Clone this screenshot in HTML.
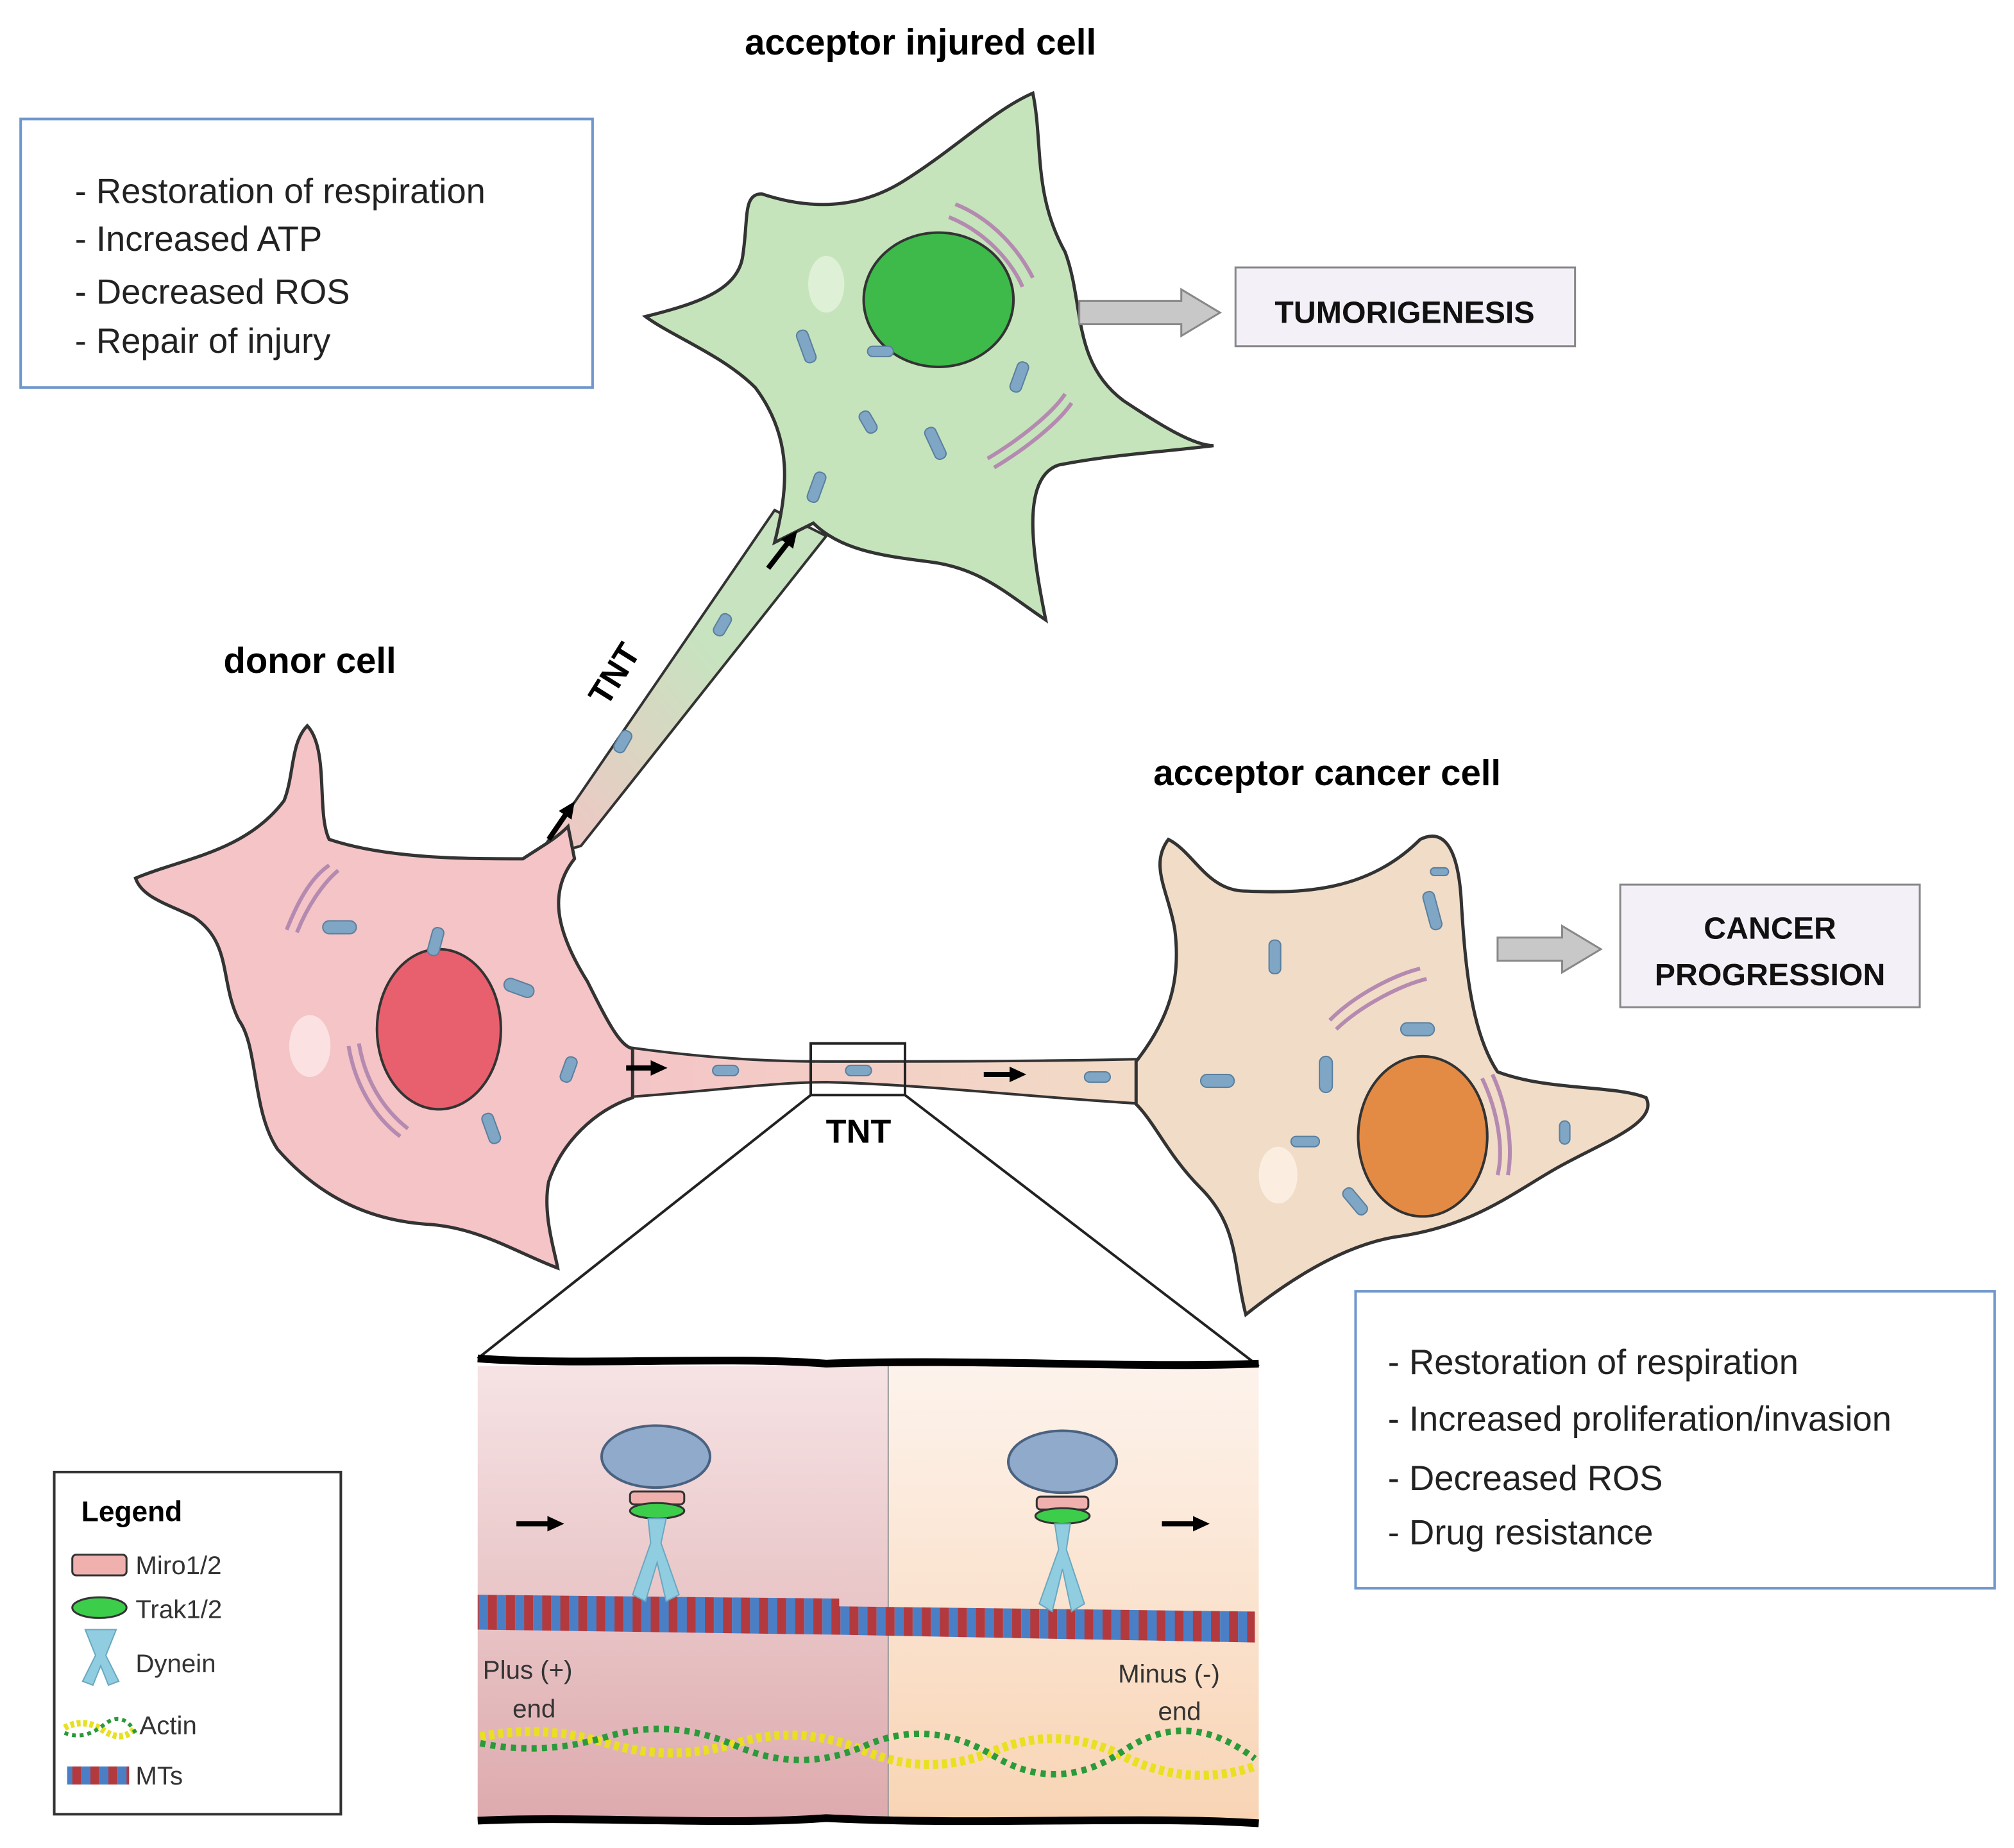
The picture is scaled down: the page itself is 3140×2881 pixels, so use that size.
<!DOCTYPE html>
<html><head><meta charset="utf-8"><style>
html,body{margin:0;padding:0;background:#fff;}
svg{display:block;}
text{font-family:"Liberation Sans",sans-serif;}
</style></head><body>
<svg width="3140" height="2881" viewBox="0 0 1560 1431" xmlns="http://www.w3.org/2000/svg">
<defs>
<linearGradient id="tnt1" x1="0" y1="1" x2="1" y2="0"><stop offset="0" stop-color="#f4c4c6"/><stop offset="0.6" stop-color="#c7e3bf"/></linearGradient>
<linearGradient id="tnt2" x1="0" y1="0" x2="1" y2="0"><stop offset="0" stop-color="#f4c4c6"/><stop offset="1" stop-color="#f2dcc6"/></linearGradient>
<linearGradient id="pl" x1="0" y1="0" x2="0" y2="1"><stop offset="0" stop-color="#f6e3e4"/><stop offset="1" stop-color="#ddaaad"/></linearGradient>
<linearGradient id="pr" x1="0" y1="0" x2="0" y2="1"><stop offset="0" stop-color="#fdf3ec"/><stop offset="1" stop-color="#f8d4b4"/></linearGradient>
<pattern id="mt" width="14" height="8" patternUnits="userSpaceOnUse"><rect width="7" height="8" fill="#b23a3e"/><rect x="7" width="7" height="8" fill="#4a7fc6"/></pattern>
<marker id="ah" markerUnits="userSpaceOnUse" markerWidth="14" markerHeight="14" refX="4" refY="7" orient="auto"><path d="M0,1 L13,7 L0,13z" fill="#000"/></marker>
</defs>

<rect x="16" y="92" width="443" height="208" fill="#fff" stroke="#6f97cc" stroke-width="2"/>
<g font-size="27" fill="#222">
<text x="58" y="157">- Restoration of respiration</text>
<text x="58" y="194">- Increased ATP</text>
<text x="58" y="235">- Decreased ROS</text>
<text x="58" y="273">- Repair of injury</text>
</g>

<text x="713" y="42" font-size="28" font-weight="bold" text-anchor="middle">acceptor injured cell</text>
<text x="240" y="521" font-size="28" font-weight="bold" text-anchor="middle">donor cell</text>
<text x="1028" y="608" font-size="28" font-weight="bold" text-anchor="middle">acceptor cancer cell</text>

<path d="M415,665 L600,395 L640,415 L450,655 Z" fill="url(#tnt1)" stroke="#333" stroke-width="2"/>
<path d="M600,420 C610,380 615,340 585,300 C560,275 520,260 500,245 C540,235 570,225 575,200 C580,170 575,150 590,150 C620,160 660,165 700,140 C740,115 770,85 800,72 C808,110 800,150 825,195 C840,235 830,280 870,310 C900,330 925,345 940,345 C900,350 860,352 820,360 C790,370 800,430 810,480 C780,460 760,440 720,435 C680,430 650,425 630,405 Z" fill="#c5e4bb" stroke="#333" stroke-width="2.5"/>
<ellipse cx="727" cy="232" rx="58" ry="52" fill="#3dba4a" stroke="#333" stroke-width="2"/>
<ellipse cx="640" cy="220" rx="14" ry="22" fill="#e3f2dc" opacity=".8"/>
<g fill="#7fa6c4" stroke="#5a7f9e">
<rect x="620" y="255" width="9" height="26" rx="4" transform="rotate(-20 625 268)"/>
<rect x="672" y="268" width="20" height="8" rx="4"/>
<rect x="720" y="330" width="9" height="26" rx="4" transform="rotate(-25 725 343)"/>
<rect x="668" y="318" width="9" height="18" rx="4" transform="rotate(-30 672 327)"/>
<rect x="785" y="280" width="9" height="24" rx="4" transform="rotate(20 790 292)"/>
<rect x="628" y="365" width="9" height="24" rx="4" transform="rotate(20 632 377)"/>
<rect x="555" y="475" width="9" height="18" rx="4" transform="rotate(30 560 484)"/>
<rect x="478" y="565" width="9" height="18" rx="4" transform="rotate(30 482 574)"/>
</g>
<g fill="none" stroke="#b58ab0" stroke-width="3">
<path d="M740,158 C770,170 790,195 800,215"/><path d="M735,168 C765,180 785,205 792,222"/>
<path d="M765,355 C790,340 815,320 825,305"/><path d="M770,362 C795,347 820,327 830,312"/>
</g>

<path d="M480,810 C560,822 620,822 640,822 C720,822 800,822 890,820 L890,855 C800,850 720,840 640,838 C600,838 550,845 480,850 Z" fill="url(#tnt2)" stroke="#333" stroke-width="2"/>

<path d="M105,680 C140,665 190,660 220,620 C228,600 225,575 238,562 C255,580 245,630 255,650 C300,665 360,665 405,665 C420,655 430,650 440,640 L445,665 C425,690 430,720 455,760 C470,790 480,810 490,812 L490,850 C460,860 435,885 425,915 C420,940 430,970 432,982 C400,970 370,950 330,948 C290,945 250,930 215,890 C195,860 200,810 185,790 C170,760 180,730 150,710 C130,700 110,695 105,680 Z" fill="#f4c4c6" stroke="#333" stroke-width="2.5"/>
<ellipse cx="340" cy="797" rx="48" ry="62" fill="#e8606e" stroke="#333" stroke-width="2"/>
<ellipse cx="240" cy="810" rx="16" ry="24" fill="#fbe1e2"/>
<g fill="#7fa6c4" stroke="#5a7f9e">
<rect x="250" y="713" width="26" height="10" rx="5"/>
<rect x="333" y="718" width="9" height="22" rx="4" transform="rotate(15 337 729)"/>
<rect x="390" y="760" width="24" height="10" rx="5" transform="rotate(20 402 765)"/>
<rect x="436" y="818" width="9" height="20" rx="4" transform="rotate(20 440 828)"/>
<rect x="376" y="862" width="9" height="24" rx="4" transform="rotate(-20 380 874)"/>
<rect x="552" y="825" width="20" height="8" rx="4"/>
<rect x="655" y="825" width="20" height="8" rx="4"/>
<rect x="840" y="830" width="20" height="8" rx="4"/>
</g>
<g fill="none" stroke="#b58ab0" stroke-width="3">
<path d="M222,720 C230,700 240,680 255,670"/><path d="M230,722 C238,702 250,684 262,674"/>
<path d="M270,810 C275,840 290,865 310,880"/><path d="M278,808 C283,838 298,860 316,874"/>
</g>

<path d="M880,822 C905,790 915,760 910,720 C905,690 890,670 905,650 C925,660 935,690 965,690 C1010,692 1060,690 1100,650 C1120,640 1130,660 1132,700 C1135,750 1140,800 1160,830 C1200,845 1250,840 1275,850 C1285,870 1240,885 1205,905 C1170,925 1140,950 1080,958 C1040,965 1000,990 965,1018 C955,980 960,950 930,920 C905,895 895,870 880,855 Z" fill="#f1dcc7" stroke="#333" stroke-width="2.5"/>
<ellipse cx="1102" cy="880" rx="50" ry="62" fill="#e38b45" stroke="#333" stroke-width="2"/>
<ellipse cx="990" cy="910" rx="15" ry="22" fill="#fbeee1"/>
<g fill="#7fa6c4" stroke="#5a7f9e">
<rect x="983" y="728" width="9" height="26" rx="4"/>
<rect x="1105" y="690" width="9" height="30" rx="4" transform="rotate(-15 1110 705)"/>
<rect x="1085" y="792" width="26" height="10" rx="5"/>
<rect x="930" y="832" width="26" height="10" rx="5"/>
<rect x="1022" y="818" width="10" height="28" rx="5"/>
<rect x="1000" y="880" width="22" height="8" rx="4"/>
<rect x="1045" y="918" width="9" height="24" rx="4" transform="rotate(-40 1050 930)"/>
<rect x="1208" y="868" width="8" height="18" rx="4"/>
<rect x="1108" y="672" width="14" height="6" rx="3"/>
</g>
<g fill="none" stroke="#b58ab0" stroke-width="3">
<path d="M1030,790 C1050,770 1080,755 1100,750"/><path d="M1035,797 C1055,778 1085,763 1105,758"/>
<path d="M1148,835 C1160,860 1165,890 1160,910"/><path d="M1156,832 C1168,858 1172,888 1168,910"/>
</g>

<g stroke="#000" stroke-width="4" marker-end="url(#ah)">
<line x1="425" y1="650" x2="440" y2="628"/>
<line x1="595" y1="440" x2="612" y2="418"/>
<line x1="485" y1="827" x2="508" y2="827"/>
<line x1="762" y1="832" x2="786" y2="832"/>
</g>
<text x="0" y="0" font-size="26" font-weight="bold" transform="translate(470,548) rotate(-58)">TNT</text>
<text x="665" y="885" font-size="26" font-weight="bold" text-anchor="middle">TNT</text>

<path d="M836,233 L915,233 L915,224 L945,242 L915,260 L915,251 L836,251 Z" fill="#c8c8c8" stroke="#888" stroke-width="1.5"/>
<rect x="957" y="207" width="263" height="61" fill="#f4f0f8" stroke="#888" stroke-width="1.5"/>
<text x="1088" y="250" font-size="24" font-weight="bold" text-anchor="middle" fill="#111">TUMORIGENESIS</text>
<path d="M1160,726 L1210,726 L1210,717 L1240,735 L1210,753 L1210,744 L1160,744 Z" fill="#c8c8c8" stroke="#888" stroke-width="1.5"/>
<rect x="1255" y="685" width="232" height="95" fill="#f4f0f8" stroke="#888" stroke-width="1.5"/>
<text x="1371" y="727" font-size="24" font-weight="bold" text-anchor="middle" fill="#111">CANCER</text>
<text x="1371" y="763" font-size="24" font-weight="bold" text-anchor="middle" fill="#111">PROGRESSION</text>

<rect x="1050" y="1000" width="495" height="230" fill="#fff" stroke="#6f97cc" stroke-width="2"/>
<g font-size="27" fill="#222">
<text x="1075" y="1064">- Restoration of respiration</text>
<text x="1075" y="1108">- Increased proliferation/invasion</text>
<text x="1075" y="1154">- Decreased ROS</text>
<text x="1075" y="1196">- Drug resistance</text>
</g>

<rect x="628" y="808" width="73" height="40" fill="none" stroke="#222" stroke-width="2"/>
<line x1="628" y1="848" x2="370" y2="1052" stroke="#222" stroke-width="2"/>
<line x1="701" y1="848" x2="975" y2="1058" stroke="#222" stroke-width="2"/>

<rect x="370" y="1058" width="318" height="352" fill="url(#pl)"/>
<rect x="688" y="1058" width="287" height="352" fill="url(#pr)"/>
<line x1="688" y1="1058" x2="688" y2="1410" stroke="#999" stroke-width="1"/>
<path d="M370,1052 C450,1058 560,1050 640,1056 C760,1052 880,1060 975,1056" fill="none" stroke="#000" stroke-width="6"/>
<path d="M370,1410 C450,1406 560,1414 640,1408 C760,1414 880,1406 975,1412" fill="none" stroke="#000" stroke-width="6"/>
<path d="M370,1235 L650,1238 L650,1244 L972,1248 L972,1272 L650,1266 L370,1262 Z" fill="url(#mt)"/>
<text x="374" y="1300" font-size="20" fill="#333">Plus (+)</text>
<text x="397" y="1330" font-size="20" fill="#333">end</text>
<text x="866" y="1303" font-size="20" fill="#333">Minus (-)</text>
<text x="897" y="1332" font-size="20" fill="#333">end</text>
<path d="M372,1345 Q420,1335 470,1350 T570,1350 T670,1356 T770,1356 T870,1360 T972,1368" fill="none" stroke="#e8e020" stroke-width="7" stroke-dasharray="4 3"/>
<path d="M372,1350 Q420,1360 470,1345 T570,1352 T670,1352 T770,1360 T870,1356 T972,1362" fill="none" stroke="#2a9a3a" stroke-width="5" stroke-dasharray="4 4"/>
<g>
<ellipse cx="508" cy="1128" rx="42" ry="24" fill="#8faacb" stroke="#4a6280" stroke-width="2"/>
<rect x="488" y="1155" width="42" height="10" rx="3" fill="#f0b0ae" stroke="#333" stroke-width="1.5"/>
<ellipse cx="509" cy="1170" rx="21" ry="6" fill="#3ccd4a" stroke="#333" stroke-width="1.5"/>
<path d="M502,1176 L516,1176 L512,1195 L526,1235 L516,1240 L509,1210 L500,1240 L490,1235 L504,1195 Z" fill="#90cde0" stroke="#6aa8c0"/>
</g>
<g>
<ellipse cx="823" cy="1132" rx="42" ry="24" fill="#8faacb" stroke="#4a6280" stroke-width="2"/>
<rect x="803" y="1159" width="40" height="10" rx="3" fill="#f0b0ae" stroke="#333" stroke-width="1.5"/>
<ellipse cx="823" cy="1174" rx="21" ry="6" fill="#3ccd4a" stroke="#333" stroke-width="1.5"/>
<path d="M817,1180 L829,1180 L826,1200 L840,1242 L830,1248 L823,1215 L815,1248 L805,1242 L820,1200 Z" fill="#90cde0" stroke="#6aa8c0"/>
</g>
<g stroke="#000" stroke-width="4" marker-end="url(#ah)">
<line x1="400" y1="1180" x2="428" y2="1180"/>
<line x1="900" y1="1180" x2="928" y2="1180"/>
</g>

<rect x="42" y="1140" width="222" height="265" fill="#fff" stroke="#333" stroke-width="2"/>
<text x="63" y="1178" font-size="22" font-weight="bold">Legend</text>
<rect x="56" y="1204" width="42" height="16" rx="3" fill="#f0b0ae" stroke="#333" stroke-width="1.5"/>
<text x="105" y="1219" font-size="20" fill="#333">Miro1/2</text>
<ellipse cx="77" cy="1245" rx="21" ry="8" fill="#3ccd4a" stroke="#333" stroke-width="1.5"/>
<text x="105" y="1253" font-size="20" fill="#333">Trak1/2</text>
<path d="M66,1262 L90,1262 L82,1282 L92,1302 L84,1305 L78,1290 L72,1305 L64,1302 L74,1282 Z" fill="#90cde0" stroke="#6aa8c0"/>
<text x="105" y="1295" font-size="20" fill="#333">Dynein</text>
<path d="M50,1338 Q65,1330 80,1340 T105,1338" fill="none" stroke="#e8e020" stroke-width="5" stroke-dasharray="3 2"/>
<path d="M50,1342 Q65,1348 80,1336 T105,1342" fill="none" stroke="#2a9a3a" stroke-width="3" stroke-dasharray="3 3"/>
<text x="108" y="1343" font-size="20" fill="#333">Actin</text>
<rect x="52" y="1368" width="48" height="14" fill="url(#mt)"/>
<text x="105" y="1382" font-size="20" fill="#333">MTs</text>
</svg>
</body></html>
